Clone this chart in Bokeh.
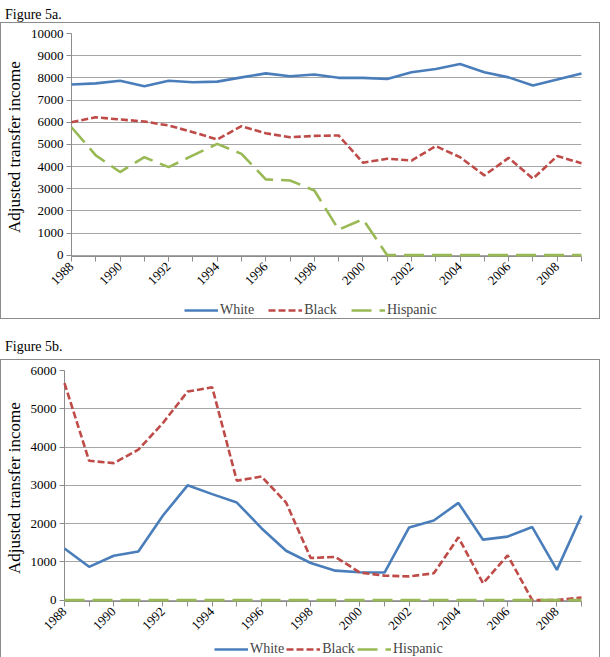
import math
from bokeh.plotting import figure
from bokeh.models import Range1d, FixedTicker, Legend, LegendItem, Div
from bokeh.layouts import column
from bokeh.embed import file_html
from bokeh.resources import INLINE

years = list(range(1988, 2010))

# Figure 5a values
white_a = [7700, 7750, 7870, 7620, 7870, 7800, 7830, 8020, 8200, 8070, 8150,
           8000, 8000, 7950, 8250, 8400, 8620, 8250, 8020, 7650, 7920, 8200]
black_a = [6000, 6220, 6120, 6030, 5850, 5550, 5220, 5820, 5500, 5320, 5380,
           5400, 4170, 4350, 4270, 4920, 4420, 3600, 4390, 3450, 4470, 4150]
hisp_a = [5770, 4500, 3750, 4420, 3970, 4500, 5020, 4570, 3420, 3370, 2920,
          1150, 1620, 0, 0, 0, 0, 0, 0, 0, 0, 0]

# Figure 5b values
white_b = [1350, 870, 1160, 1270, 2210, 3000, 2770, 2550, 1880, 1290, 970,
           770, 730, 720, 1900, 2080, 2540, 1580, 1660, 1910, 790, 2210]
black_b = [5670, 3640, 3580, 3930, 4630, 5450, 5560, 3120, 3230, 2550, 1100,
           1130, 720, 640, 620, 700, 1640, 440, 1170, 0, 0, 70]
hisp_b = [0] * 22

series_names = ["White", "Black", "Hispanic"]
colors = ["#4a7ebb", "#be4b48", "#98b954"]
dashes = ["solid", "7 3", "20 8"]

FONT = "Liberation Serif"
BORDER = "1px solid #8c8c8c"


def make_panel(white, black, hisp, ymax, height, border_left):
    p = figure(width=598, height=height, output_backend="svg", toolbar_location=None,
               x_range=Range1d(1988, 2009), y_range=Range1d(-ymax * 0.006, ymax),
               min_border_left=border_left, min_border_right=18,
               min_border_top=10, min_border_bottom=39)
    p.outline_line_color = None

    for vals, c, d in zip([white, black, hisp], colors, dashes):
        p.line(years, vals, line_color=c, line_width=2.6, line_dash=d, level="overlay")

    p.xgrid.grid_line_color = None
    p.ygrid.grid_line_color = "#a6a6a6"
    p.ygrid.grid_line_width = 1
    p.yaxis.ticker = FixedTicker(ticks=list(range(0, ymax + 1, 1000)))
    p.xaxis.ticker = FixedTicker(ticks=years)
    p.xaxis.major_label_overrides = {y: (str(y) if y % 2 == 0 else "") for y in years}
    p.xaxis.major_label_orientation = math.pi / 4

    for ax in [p.xaxis[0], p.yaxis[0]]:
        ax.axis_line_color = "#8c8c8c"
        ax.major_tick_line_color = "#8c8c8c"
        ax.major_tick_in = 0
        ax.major_tick_out = 5
        ax.minor_tick_line_color = None
        ax.major_label_text_font = FONT
        ax.major_label_text_font_size = "13px"
        ax.major_label_text_color = "#000000"
        ax.major_label_standoff = 3

    p.yaxis.axis_label = "Adjusted transfer  income"
    p.yaxis.axis_label_text_font = FONT
    p.yaxis.axis_label_text_font_size = "17px"
    p.yaxis.axis_label_text_font_style = "normal"
    p.yaxis.axis_label_text_color = "#000000"
    p.yaxis.axis_label_standoff = 4
    return p


def make_legend(height, legend_x, spacing):
    q = figure(width=598, height=height, output_backend="svg", toolbar_location=None,
               x_axis_type=None, y_axis_type=None,
               x_range=Range1d(0, 1), y_range=Range1d(0, 1),
               min_border_left=0, min_border_right=0, min_border_top=0, min_border_bottom=0)
    q.outline_line_color = None
    q.grid.grid_line_color = None
    rs = []
    for c, d in zip(colors, dashes):
        # points lie outside the visible range: only the legend glyph shows
        rs.append(q.line([-10, -9], [-10, -9], line_color=c, line_width=2.6, line_dash=d))
    items = [LegendItem(label=n, renderers=[r]) for n, r in zip(series_names, rs)]
    leg = Legend(items=items, orientation="horizontal", location=(legend_x, 0),
                 border_line_color=None, background_fill_alpha=0,
                 label_text_font=FONT, label_text_font_size="14px",
                 label_height=16, glyph_width=34, glyph_height=14,
                 spacing=spacing, padding=1, margin=0, label_standoff=2)
    q.add_layout(leg)
    return q


box_style = {"border": BORDER}
title_style = {"font-family": FONT, "font-size": "14px", "color": "#000"}
t1 = Div(text="Figure 5a.", width=200, height=12, styles=title_style)
p1 = make_panel(white_a, black_a, hisp_a, 10000, 272, 64)
l1 = make_legend(23, 113, 14)
box1 = column(p1, l1, styles=box_style)
t2 = Div(text='<div style="margin-top:13px">Figure 5b.</div>', width=200, height=30,
         styles=title_style)
p2 = make_panel(white_b, black_b, hisp_b, 6000, 280, 62)
l2 = make_legend(17, 150, 2)
box2 = column(p2, l2, styles=box_style)

layout = column(t1, box1, t2, box2)
open("out.html", "w").write(file_html(layout, INLINE))
